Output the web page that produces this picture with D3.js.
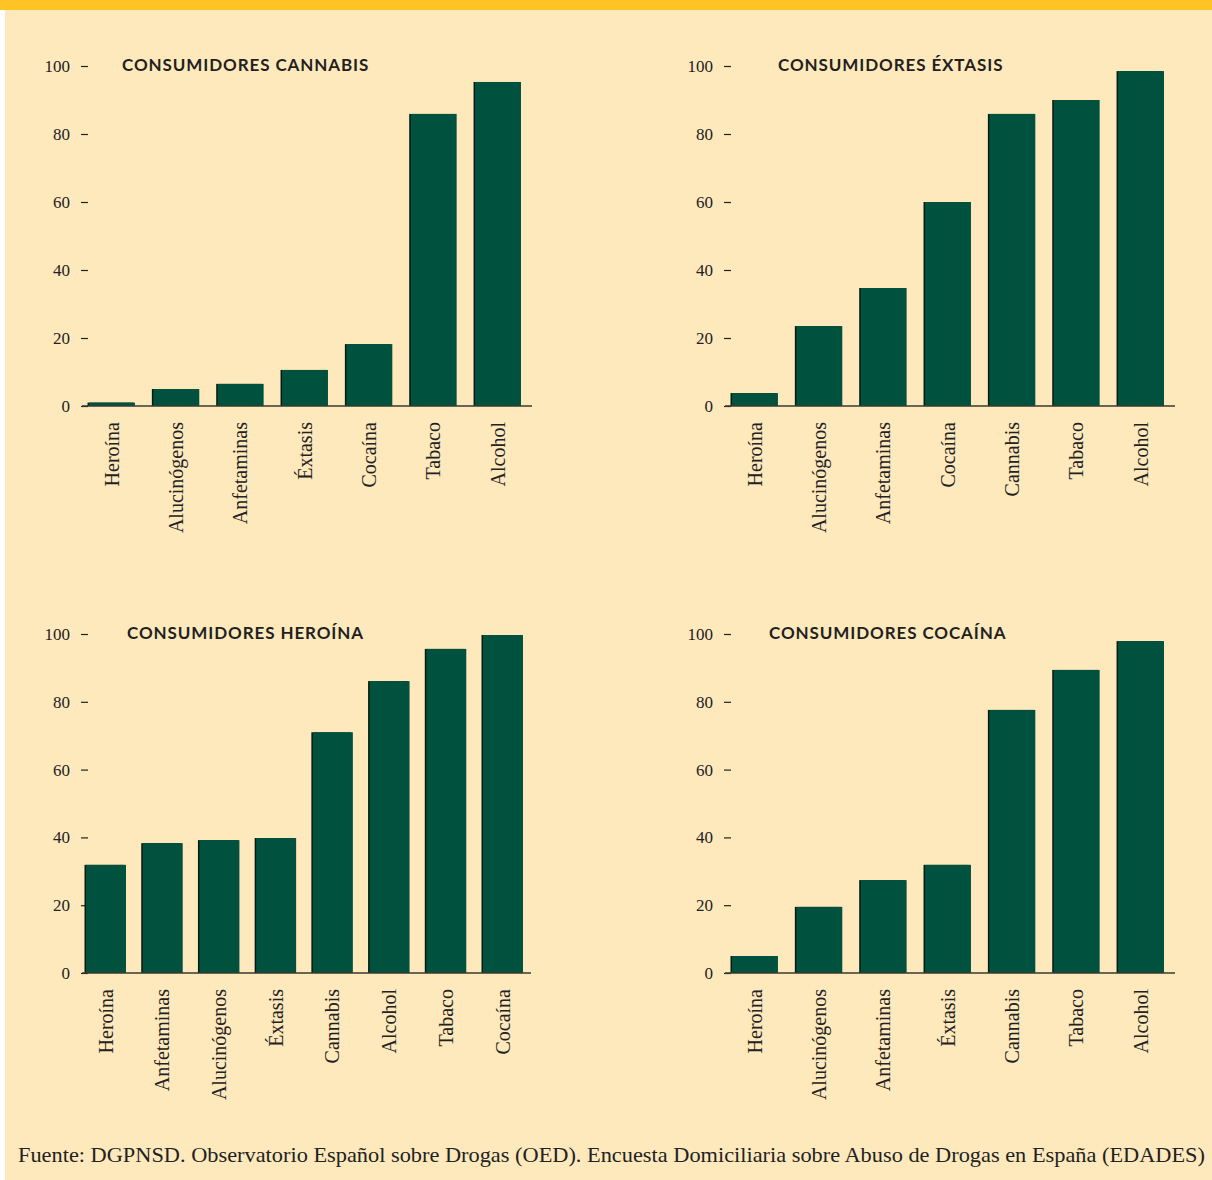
<!DOCTYPE html>
<html>
<head>
<meta charset="utf-8">
<script src="https://cdn.jsdelivr.net/npm/d3@7"></script>
<style>
  body { margin: 0; background: #fff; }
  svg { display: block; }
</style>
</head>
<body>
<div id="chart"></div>
<script>
// data per panel
const cannabisCats = ['Heroína', 'Alucinógenos', 'Anfetaminas', 'Éxtasis', 'Cocaína', 'Tabaco', 'Alcohol'];
const cannabisVals = [1, 5, 6.5, 10.6, 18.2, 85.9, 95.3];

const extasisCats = ['Heroína', 'Alucinógenos', 'Anfetaminas', 'Cocaína', 'Cannabis', 'Tabaco', 'Alcohol'];
const extasisVals = [3.8, 23.5, 34.7, 60, 85.9, 90, 98.5];

const heroinaCats = ['Heroína', 'Anfetaminas', 'Alucinógenos', 'Éxtasis', 'Cannabis', 'Alcohol', 'Tabaco', 'Cocaína'];
const heroinaVals = [31.9, 38.3, 39.2, 39.8, 71, 86.1, 95.6, 99.7];

const cocainaCats = ['Heroína', 'Alucinógenos', 'Anfetaminas', 'Éxtasis', 'Cannabis', 'Tabaco', 'Alcohol'];
const cocainaVals = [5, 19.5, 27.4, 31.9, 77.6, 89.4, 97.9];

const yTicks = [0, 20, 40, 60, 80, 100];
const source = 'Fuente: DGPNSD. Observatorio Español sobre Drogas (OED). Encuesta Domiciliaria sobre Abuso de Drogas en España (EDADES)';

const W = 1212, H = 1180;
const barColor = '#00523f';

const svg = d3.select('#chart').append('svg')
    .attr('width', W)
    .attr('height', H);

// background + top stripe
svg.append('rect').attr('x', 5).attr('y', 0).attr('width', W - 5).attr('height', H).attr('fill', '#fee9bd');
svg.append('rect').attr('x', 0).attr('y', 0).attr('width', W).attr('height', 10).attr('fill', '#fec425');

const panels = [
    {title: 'CONSUMIDORES CANNABIS', cats: cannabisCats, vals: cannabisVals,
     x0: 80, x1: 530, y0: 406, y1: 66, titleX: 122, pi: 0.286, po: 0.14},
    {title: 'CONSUMIDORES ÉXTASIS', cats: extasisCats, vals: extasisVals,
     x0: 723, x1: 1173, y0: 406, y1: 66, titleX: 778, pi: 0.286, po: 0.14},
    {title: 'CONSUMIDORES HEROÍNA', cats: heroinaCats, vals: heroinaVals,
     x0: 80, x1: 529, y0: 973, y1: 634, titleX: 127, pi: 0.295, po: 0.106},
    {title: 'CONSUMIDORES COCAÍNA', cats: cocainaCats, vals: cocainaVals,
     x0: 723, x1: 1173, y0: 973, y1: 634, titleX: 769, pi: 0.286, po: 0.14}
];

panels.forEach(p => {
    const g = svg.append('g');

    const x = d3.scaleBand()
        .domain(p.cats)
        .range([p.x0, p.x1])
        .paddingInner(p.pi)
        .paddingOuter(p.po);

    const y = d3.scaleLinear()
        .domain([0, 100])
        .range([p.y0, p.y1]);

    const data = p.cats.map((c, i) => ({cat: c, val: p.vals[i]}));

    // y axis: ticks + labels only
    const yAxis = d3.axisLeft(y)
        .tickValues(yTicks)
        .tickSize(7)
        .tickPadding(11);

    const yg = g.append('g')
        .attr('transform', `translate(${p.x0 + 8}, 0)`)
        .call(yAxis);
    yg.select('.domain').remove();
    yg.selectAll('line').attr('stroke', '#222').attr('stroke-width', 1.2);
    yg.selectAll('text')
        .attr('fill', '#222')
        .style('font-family', '"Liberation Serif", "DejaVu Serif", serif')
        .style('font-size', '17px');

    // bar shadow on left edge
    g.selectAll('rect.shadow')
        .data(data)
        .enter()
        .append('rect')
        .attr('class', 'shadow')
        .attr('x', d => x(d.cat) - 1.5)
        .attr('y', d => y(d.val))
        .attr('width', x.bandwidth())
        .attr('height', d => p.y0 - y(d.val))
        .attr('fill', '#0a1a12');

    g.selectAll('rect.bar')
        .data(data)
        .enter()
        .append('rect')
        .attr('class', 'bar')
        .attr('x', d => x(d.cat))
        .attr('y', d => y(d.val))
        .attr('width', x.bandwidth())
        .attr('height', d => p.y0 - y(d.val))
        .attr('fill', barColor);

    // x axis: baseline + rotated labels
    const xAxis = d3.axisBottom(x).tickSize(0).tickPadding(0);
    const xg = g.append('g')
        .attr('transform', `translate(0, ${p.y0})`)
        .call(xAxis);
    xg.select('.domain')
        .attr('d', `M${p.x0 + 2},0H${p.x1 + 2}`)
        .attr('stroke', '#3a3a30')
        .attr('stroke-width', 1.6);
    xg.selectAll('text')
        .attr('fill', '#222')
        .attr('transform', 'rotate(-90)')
        .attr('x', -16)
        .attr('y', 0)
        .attr('dy', '0.33em')
        .attr('text-anchor', 'end')
        .style('font-family', '"Liberation Serif", "DejaVu Serif", serif')
        .style('font-size', '20px');

    // title
    g.append('text')
        .attr('x', p.titleX)
        .attr('y', p.y1 + 5)
        .attr('fill', '#231f20')
        .style('font-family', 'Lato, "Open Sans", sans-serif')
        .style('font-weight', 700)
        .style('font-size', '17px')
        .style('letter-spacing', '0.9px')
        .text(p.title);
});

// source line
svg.append('text')
    .attr('x', 18)
    .attr('y', 1162)
    .attr('textLength', 1187)
    .attr('lengthAdjust', 'spacingAndGlyphs')
    .attr('fill', '#222')
    .style('font-family', '"Liberation Serif", "DejaVu Serif", serif')
    .style('font-size', '21px')
    .text(source);
</script>
</body>
</html>
